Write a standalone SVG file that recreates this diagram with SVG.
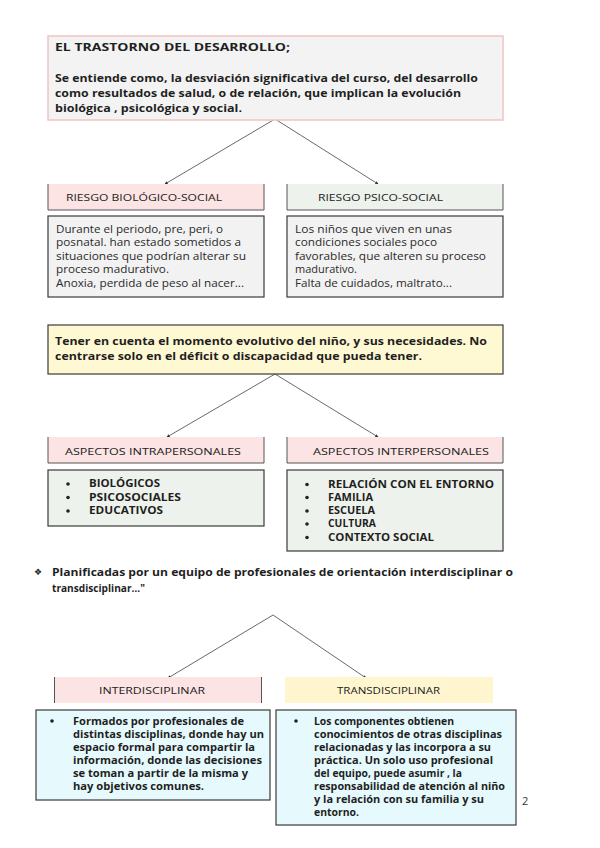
<svg xmlns="http://www.w3.org/2000/svg" width="600" height="848" viewBox="0 0 600 848">
<style>
text{font-family:"Open Sans","Noto Sans","DejaVu Sans",sans-serif;fill:#1f1f1f}
.b{font-weight:700;font-size:11px}
.r{font-size:10px;fill:#2a2a2a}
.h{font-size:9.5px;fill:#222}
.l{font-weight:700;font-size:10px}
.box{stroke:#3a3a3a;stroke-width:1.2}
.pink{fill:#fce4e4}
.green{fill:#edf2ec}
.conn{stroke:#444;stroke-width:0.8;fill:none;marker-end:url(#ah)}
.hb{stroke:#555;stroke-width:1}
</style>
<defs>
<marker id="ah" viewBox="0 0 6 6" refX="5" refY="3" markerWidth="4" markerHeight="4" orient="auto"><path d="M0,0 L6,3 L0,6 z" fill="#333"/></marker>
</defs>
<rect width="600" height="848" fill="#fff"/>

<g id="connectors">
<line class="conn" x1="275" y1="119" x2="165" y2="184"/>
<line class="conn" x1="275" y1="119" x2="378" y2="184"/>
<line class="conn" x1="275" y1="374" x2="167" y2="437"/>
<line class="conn" x1="275" y1="374" x2="378" y2="437"/>
<line class="conn" x1="273" y1="615" x2="168" y2="678"/>
<line class="conn" x1="273" y1="615" x2="366" y2="678"/>
</g>

<g id="n-trastorno">
<rect x="48" y="36" width="455" height="84" fill="#f3f3f3" stroke="#f2c4c4" stroke-width="1.5"/>
<text class="b" x="55" y="51" textLength="235" lengthAdjust="spacingAndGlyphs">EL TRASTORNO DEL DESARROLLO;</text>
<text class="b" x="55" y="82" textLength="423" lengthAdjust="spacingAndGlyphs">Se entiende como, la desviación significativa del curso, del desarrollo</text>
<text class="b" x="55" y="97" textLength="406" lengthAdjust="spacingAndGlyphs">como resultados de salud, o de relación, que implican la evolución</text>
<text class="b" x="55" y="112" textLength="187" lengthAdjust="spacingAndGlyphs">biológica , psicológica y social.</text>
</g>

<g id="n-riesgo-bio">
<rect class="pink" x="48" y="184" width="216" height="26"/>
<path class="hb" d="M48,184 V210 H264 V184" fill="none"/>
<text class="h" x="66" y="201" textLength="156" lengthAdjust="spacingAndGlyphs">RIESGO BIOLÓGICO-SOCIAL</text>
</g>
<g id="n-riesgo-psico">
<rect class="green" x="287" y="184" width="216" height="26"/>
<path class="hb" d="M287,184 V210 H503 V184" fill="none"/>
<text class="h" x="318" y="201" textLength="125" lengthAdjust="spacingAndGlyphs">RIESGO PSICO-SOCIAL</text>
</g>

<g id="n-bio-body">
<rect class="box" x="48" y="216" width="216" height="81" fill="#f2f2f2"/>
<text class="r" x="56" y="232.5" textLength="167" lengthAdjust="spacingAndGlyphs">Durante el periodo, pre, peri, o</text>
<text class="r" x="56" y="246" textLength="185" lengthAdjust="spacingAndGlyphs">posnatal. han estado sometidos a</text>
<text class="r" x="56" y="259.5" textLength="190" lengthAdjust="spacingAndGlyphs">situaciones que podrían alterar su</text>
<text class="r" x="56" y="273" textLength="113" lengthAdjust="spacingAndGlyphs">proceso madurativo.</text>
<text class="r" x="56" y="286.5" textLength="188" lengthAdjust="spacingAndGlyphs">Anoxia, perdida de peso al nacer...</text>
</g>
<g id="n-psico-body">
<rect class="box" x="287" y="216" width="216" height="81" fill="#f2f2f2"/>
<text class="r" x="295" y="232.5" textLength="157" lengthAdjust="spacingAndGlyphs">Los niños que viven en unas</text>
<text class="r" x="295" y="246" textLength="142" lengthAdjust="spacingAndGlyphs">condiciones sociales poco</text>
<text class="r" x="295" y="259.5" textLength="191" lengthAdjust="spacingAndGlyphs">favorables, que alteren su proceso</text>
<text class="r" x="295" y="273" textLength="62" lengthAdjust="spacingAndGlyphs">madurativo.</text>
<text class="r" x="295" y="286.5" textLength="157" lengthAdjust="spacingAndGlyphs">Falta de cuidados, maltrato...</text>
</g>

<g id="n-tener">
<rect class="box" x="48" y="325" width="455" height="49" fill="#fff9d3"/>
<text class="b" x="55" y="345" textLength="432" lengthAdjust="spacingAndGlyphs">Tener en cuenta el momento evolutivo del niño, y sus necesidades. No</text>
<text class="b" x="55" y="360" textLength="367" lengthAdjust="spacingAndGlyphs">centrarse solo en el déficit o discapacidad que pueda tener.</text>
</g>

<g id="n-intra">
<rect class="pink" x="48" y="437" width="216" height="26"/>
<path class="hb" d="M48,437 V463 H264 V437" fill="none"/>
<text class="h" x="65" y="454.5" textLength="176" lengthAdjust="spacingAndGlyphs">ASPECTOS INTRAPERSONALES</text>
</g>
<g id="n-inter">
<rect class="pink" x="287" y="437" width="216" height="26"/>
<path class="hb" d="M287,437 V463 H503 V437" fill="none"/>
<text class="h" x="313" y="454.5" textLength="176" lengthAdjust="spacingAndGlyphs">ASPECTOS INTERPERSONALES</text>
</g>

<g id="n-intra-body">
<rect class="box" x="48" y="470" width="216" height="56" fill="#eef2ec"/>
<circle cx="68" cy="484" r="1.8" fill="#222"/>
<circle cx="68" cy="497.5" r="1.8" fill="#222"/>
<circle cx="68" cy="511" r="1.8" fill="#222"/>
<text class="l" x="89" y="487" textLength="71" lengthAdjust="spacingAndGlyphs">BIOLÓGICOS</text>
<text class="l" x="89" y="500.5" textLength="92" lengthAdjust="spacingAndGlyphs">PSICOSOCIALES</text>
<text class="l" x="89" y="514" textLength="74" lengthAdjust="spacingAndGlyphs">EDUCATIVOS</text>
</g>
<g id="n-inter-body">
<rect class="box" x="287" y="470" width="216" height="81" fill="#eef2ec"/>
<circle cx="307" cy="484.5" r="1.8" fill="#222"/>
<circle cx="307" cy="497.5" r="1.8" fill="#222"/>
<circle cx="307" cy="511" r="1.8" fill="#222"/>
<circle cx="307" cy="524" r="1.8" fill="#222"/>
<circle cx="307" cy="537.5" r="1.8" fill="#222"/>
<text class="l" x="328" y="487.5" textLength="166" lengthAdjust="spacingAndGlyphs">RELACIÓN CON EL ENTORNO</text>
<text class="l" x="328" y="500.5" textLength="45" lengthAdjust="spacingAndGlyphs">FAMILIA</text>
<text class="l" x="328" y="514" textLength="47" lengthAdjust="spacingAndGlyphs">ESCUELA</text>
<text class="l" x="328" y="527" textLength="48" lengthAdjust="spacingAndGlyphs">CULTURA</text>
<text class="l" x="328" y="540.5" textLength="106" lengthAdjust="spacingAndGlyphs">CONTEXTO SOCIAL</text>
</g>

<g id="n-planificadas">
<text x="34" y="575" font-size="9" style="font-family:'DejaVu Sans',sans-serif">❖</text>
<text class="l" x="52" y="576" textLength="461" lengthAdjust="spacingAndGlyphs">Planificadas por un equipo de profesionales de orientación interdisciplinar o</text>
<text class="l" x="52" y="592" textLength="93" lengthAdjust="spacingAndGlyphs">transdisciplinar…"</text>
</g>

<g id="n-interdisciplinar">
<rect class="pink" x="54" y="677" width="208" height="26"/>
<line class="hb" x1="54.5" y1="677" x2="54.5" y2="703"/>
<line class="hb" x1="261.5" y1="677" x2="261.5" y2="703"/>
<text class="h" x="99" y="693.5" textLength="106" lengthAdjust="spacingAndGlyphs">INTERDISCIPLINAR</text>
</g>
<g id="n-transdisciplinar">
<rect x="285" y="677" width="208" height="26" fill="#fff6cf"/>
<text class="h" x="337" y="693.5" textLength="103" lengthAdjust="spacingAndGlyphs">TRANSDISCIPLINAR</text>
</g>

<g id="n-inter-body2">
<rect class="box" x="36" y="710" width="234" height="90" fill="#e6fafd"/>
<circle cx="52" cy="721" r="1.8" fill="#222"/>
<text class="l" x="73" y="724.5" textLength="171" lengthAdjust="spacingAndGlyphs">Formados por profesionales de</text>
<text class="l" x="73" y="737.5" textLength="191" lengthAdjust="spacingAndGlyphs">distintas disciplinas, donde hay un</text>
<text class="l" x="73" y="750.5" textLength="182" lengthAdjust="spacingAndGlyphs">espacio formal para compartir la</text>
<text class="l" x="73" y="763.5" textLength="189" lengthAdjust="spacingAndGlyphs">información, donde las decisiones</text>
<text class="l" x="73" y="776.5" textLength="175" lengthAdjust="spacingAndGlyphs">se toman a partir de la misma y</text>
<text class="l" x="73" y="789.5" textLength="131" lengthAdjust="spacingAndGlyphs">hay objetivos comunes.</text>
</g>
<g id="n-trans-body">
<rect class="box" x="276" y="710" width="240" height="115" fill="#e6fafd"/>
<circle cx="296" cy="721" r="1.8" fill="#222"/>
<text class="l" x="314" y="724.5" textLength="140" lengthAdjust="spacingAndGlyphs">Los componentes obtienen</text>
<text class="l" x="314" y="737.5" textLength="188" lengthAdjust="spacingAndGlyphs">conocimientos de otras disciplinas</text>
<text class="l" x="314" y="750.5" textLength="177" lengthAdjust="spacingAndGlyphs">relacionadas y las incorpora a su</text>
<text class="l" x="314" y="763.5" textLength="179" lengthAdjust="spacingAndGlyphs">práctica. Un solo uso profesional</text>
<text class="l" x="314" y="776.5" textLength="148" lengthAdjust="spacingAndGlyphs">del equipo, puede asumir , la</text>
<text class="l" x="314" y="789.5" textLength="191" lengthAdjust="spacingAndGlyphs">responsabilidad de atención al niño</text>
<text class="l" x="314" y="802.5" textLength="170" lengthAdjust="spacingAndGlyphs">y la relación con su familia y su</text>
<text class="l" x="314" y="815.5" textLength="45" lengthAdjust="spacingAndGlyphs">entorno.</text>
</g>

<text x="522" y="805" font-size="11" style="fill:#333">2</text>
</svg>
